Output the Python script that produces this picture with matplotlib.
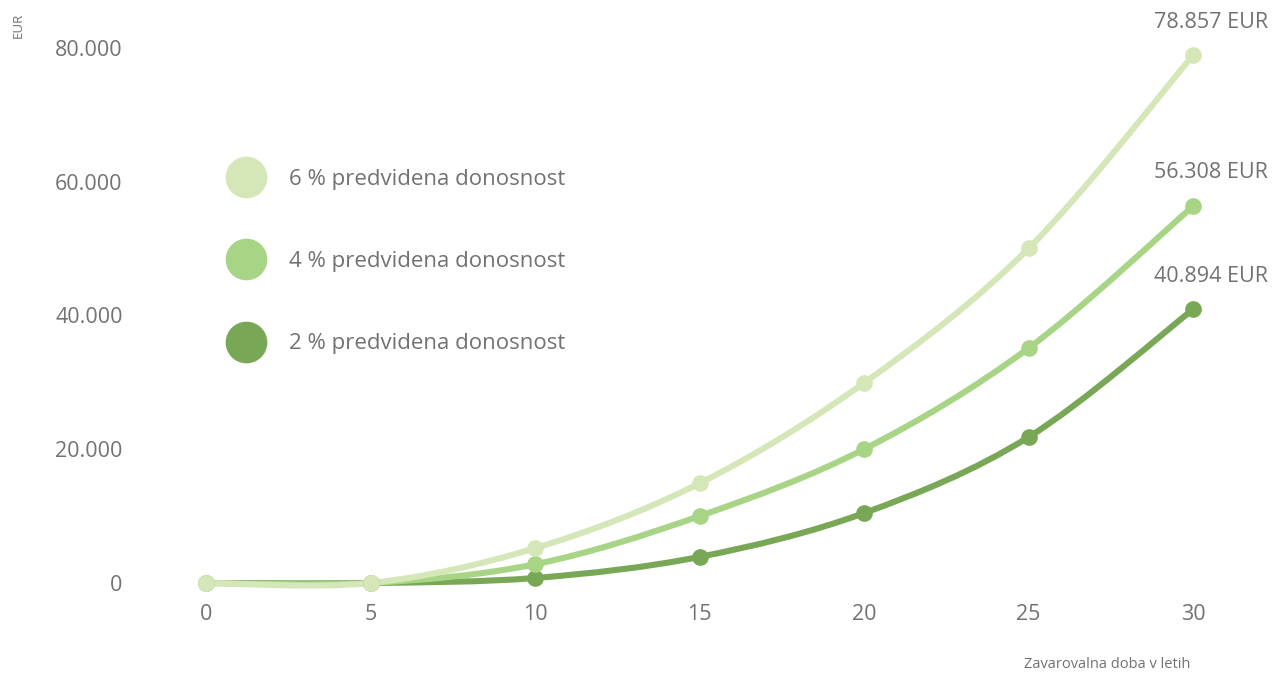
import matplotlib
matplotlib.use("Agg")
import matplotlib.pyplot as plt
from matplotlib.path import Path
from matplotlib.patches import PathPatch
from matplotlib.lines import Line2D

years = [0, 5, 10, 15, 20, 25, 30]
return_6 = [0, 0, 5200, 14900, 29900, 50000, 78857]
return_4 = [0, 0, 2800, 10000, 20000, 35100, 56308]
return_2 = [0, 0, 750, 3900, 10450, 21800, 40894]
series_labels = ["6 % predvidena donosnost", "4 % predvidena donosnost", "2 % predvidena donosnost"]
end_labels = ["78.857 EUR", "56.308 EUR", "40.894 EUR"]
y_ticks = [0, 20000, 40000, 60000, 80000]
y_tick_labels = ["0", "20.000", "40.000", "60.000", "80.000"]

colors = ["#d5e7b8", "#a8d486", "#78a855"]
grey = "#727272"

plt.rcParams["font.family"] = ["Open Sans", "DejaVu Sans"]


def smooth_path(xs, ys):
    # catmull-rom style bezier through the points
    pts = list(zip(xs, ys))
    ext = [pts[0]] + pts + [pts[-1]]
    verts = [pts[0]]
    codes = [Path.MOVETO]
    for i in range(1, len(ext) - 2):
        p0, p1, p2, p3 = ext[i - 1], ext[i], ext[i + 1], ext[i + 2]
        c1 = (p1[0] + (p2[0] - p0[0]) / 6, p1[1] + (p2[1] - p0[1]) / 6)
        c2 = (p2[0] - (p3[0] - p1[0]) / 6, p2[1] - (p3[1] - p1[1]) / 6)
        verts += [c1, c2, p2]
        codes += [Path.CURVE4] * 3
    return Path(verts, codes)


fig = plt.figure(figsize=(12.88, 6.74), dpi=100)
ax = fig.add_axes([206 / 1288, (674 - 583) / 674, (1193 - 206) / 1288, (583 - 47.8) / 674])

all_series = [return_6, return_4, return_2]
# darkest first so the light line sits on top
for vals, col in reversed(list(zip(all_series, colors))):
    patch = PathPatch(smooth_path(years, vals), facecolor="none", edgecolor=col,
                      lw=4.4, capstyle="round", clip_on=False)
    ax.add_patch(patch)
    ax.plot(years, vals, "o", color=col, ms=11, clip_on=False, zorder=3)

for vals, txt in zip(all_series, end_labels):
    ax.annotate(txt, (years[-1], vals[-1]), xytext=(13, 24), textcoords="offset points",
                ha="center", va="center", fontsize=15.5, color=grey, annotation_clip=False)

ax.set_xlim(0, 30)
ax.set_ylim(0, 80000)
ax.set_xticks(years)
ax.set_yticks(y_ticks)
ax.set_yticklabels(y_tick_labels)
for s in ax.spines.values():
    s.set_visible(False)
ax.tick_params(axis="both", length=0, labelsize=15.5, labelcolor=grey)
ax.tick_params(axis="x", pad=15)
ax.tick_params(axis="y", pad=60)

fig.text(0.014, 1 - 13 / 674, "EUR", rotation=90, ha="center", va="top", fontsize=9.5, color=grey)
fig.text(1190 / 1288, 1 - 665 / 674, "Zavarovalna doba v letih", ha="right", va="center",
         fontsize=10.5, color=grey)

handles = [Line2D([], [], ls="none", marker="o", ms=29, color=c) for c in colors]
leg = ax.legend(handles, series_labels, loc="upper left", bbox_to_anchor=(213 / 1288, 1 - 158 / 674),
                bbox_transform=fig.transFigure, frameon=False, fontsize=16, labelspacing=2.75,
                handlelength=2.0, handletextpad=0.9, labelcolor=grey, borderpad=0)

fig.savefig("out.png", dpi=100)
